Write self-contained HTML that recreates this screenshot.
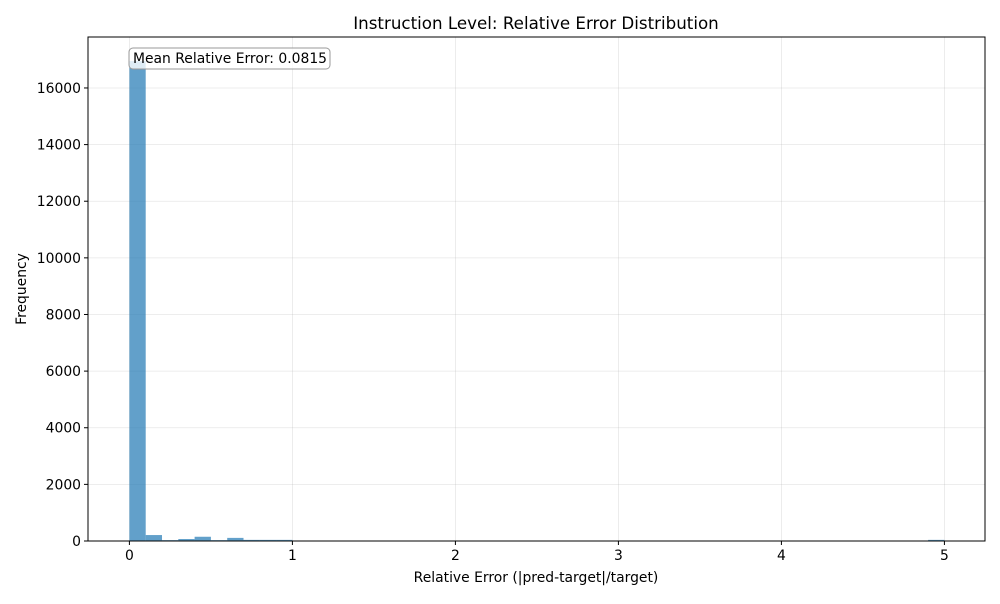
<!DOCTYPE html>
<html><head><meta charset="utf-8">
<style>
body{margin:0;background:#fff;font-family:"DejaVu Sans","Liberation Sans",sans-serif;}
svg text{font-family:"DejaVu Sans","Liberation Sans",sans-serif;}
</style></head>
<body>
<svg id="chart" width="1000" height="600" viewBox="0 0 1000 600" xmlns="http://www.w3.org/2000/svg">
<rect width="1000" height="600" fill="#fff"/>
<text x="536" y="29" font-size="16.7" text-anchor="middle" fill="#000">Instruction Level: Relative Error Distribution</text>
<g id="grid"></g>
<g id="bars"></g>
<rect x="88" y="37" width="897" height="504" fill="none" stroke="#000" stroke-width="1"/>
<g id="ticks"></g>
<text x="536" y="582" font-size="13.9" text-anchor="middle">Relative Error (|pred-target|/target)</text>
<text transform="translate(26,289) rotate(-90)" font-size="13.9" text-anchor="middle">Frequency</text>
<g>
<rect x="129" y="48" width="201" height="21" rx="4" fill="#fff" fill-opacity="0.8" stroke="#999"/>
<text x="133" y="63" font-size="13.9">Mean Relative Error: 0.0815</text>
</g>
</svg>
<script>
const binStarts = [0,0.1,0.2,0.3,0.4,0.5,0.6,0.7,0.8,0.9,4.9];
const binCounts = [16950,210,30,70,150,30,110,40,40,40,40];
const binWidth = 0.1;
const xTicks = [0,1,2,3,4,5];
const yTicks = [0,2000,4000,6000,8000,10000,12000,14000,16000];

const L=88,R=985,T=37,B=541;
const xMin=-0.254,xMax=5.249,yMin=0,yMax=17800;
const xs=v=>L+(v-xMin)/(xMax-xMin)*(R-L);
const ys=v=>B-(v-yMin)/(yMax-yMin)*(B-T);
const NS="http://www.w3.org/2000/svg";
function mk(tag,attrs,parent){const e=document.createElementNS(NS,tag);for(const k in attrs)e.setAttribute(k,attrs[k]);parent.appendChild(e);return e;}
const grid=document.getElementById('grid'),bars=document.getElementById('bars'),ticks=document.getElementById('ticks');
xTicks.forEach(t=>{
  const x=xs(t);
  const g=mk('line',{x1:x,x2:x,y1:T,y2:B,stroke:'#b0b0b0','stroke-opacity':0.3,'stroke-width':0.8},grid);
  
  
  const tk=mk('line',{x1:x,x2:x,y1:B,y2:B+4,stroke:'#000'},ticks);
  
  
  const tx=mk('text',{x:x,y:B+19,'font-size':13.9,'text-anchor':'middle'},ticks);
  tx.textContent=t;
  
  
});
yTicks.forEach(t=>{
  const y=ys(t);
  const g=mk('line',{x1:L,x2:R,y1:y,y2:y,stroke:'#b0b0b0','stroke-opacity':0.3,'stroke-width':0.8},grid);
  
  
  const tk=mk('line',{x1:L-4,x2:L,y1:y,y2:y,stroke:'#000'},ticks);
  
  
  const tx=mk('text',{x:L-7,y:y+5,'font-size':13.9,'text-anchor':'end'},ticks);
  tx.textContent=t;
  
  
});
binStarts.forEach((s,i)=>{
  const x0=xs(s),x1=xs(s+binWidth),y=ys(binCounts[i]);
  const r=mk('rect',{x:x0,y:y,width:x1-x0,height:B-y,fill:'#1f77b4','fill-opacity':0.7},bars);
  
  
});
</script>
</body></html>
